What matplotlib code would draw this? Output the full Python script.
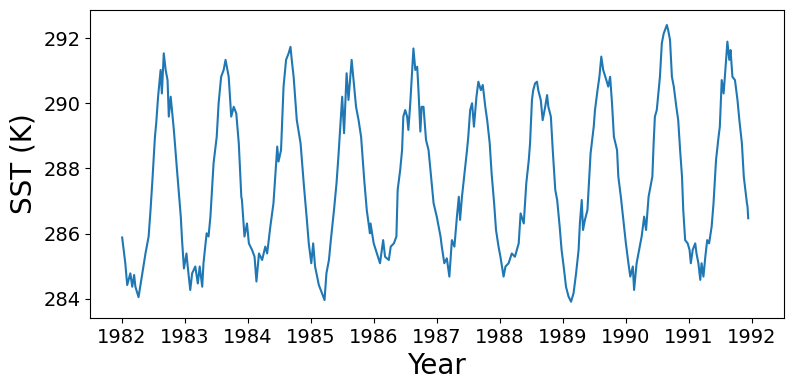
import matplotlib
matplotlib.use("Agg")
import matplotlib.pyplot as plt
import numpy as np

# SST values, split into five two-year segments
t_1982 = [1982.01, 1982.06, 1982.09, 1982.14, 1982.17, 1982.20, 1982.22, 1982.27, 1982.33, 1982.38,
          1982.43, 1982.46, 1982.49, 1982.53, 1982.55, 1982.58, 1982.62, 1982.64, 1982.67, 1982.70,
          1982.73, 1982.75, 1982.78, 1982.83, 1982.88, 1982.94, 1982.96, 1982.99, 1983.03, 1983.05,
          1983.09, 1983.12, 1983.17, 1983.21, 1983.24, 1983.28, 1983.30, 1983.35, 1983.38, 1983.41,
          1983.46, 1983.51, 1983.54, 1983.58, 1983.62, 1983.65, 1983.70, 1983.74, 1983.78, 1983.82,
          1983.86, 1983.90]
sst_1982 = [285.88, 285.09, 284.42, 284.78, 284.37, 284.73, 284.37, 284.05, 284.78, 285.39,
            285.91, 286.72, 287.64, 288.97, 289.38, 290.20, 291.02, 290.30, 291.53, 291.02,
            290.71, 289.59, 290.20, 289.18, 287.95, 286.52, 285.80, 284.93, 285.39, 284.99,
            284.27, 284.78, 284.99, 284.47, 284.99, 284.37, 285.09, 286.01, 285.91, 286.52,
            288.16, 288.97, 290.00, 290.81, 291.02, 291.33, 290.81, 289.59, 289.89, 289.69,
            288.77, 287.13]

t_1984 = [1983.91, 1983.95, 1983.99, 1984.02, 1984.07, 1984.11, 1984.14, 1984.18, 1984.23, 1984.28,
          1984.31, 1984.36, 1984.41, 1984.47, 1984.49, 1984.53, 1984.57, 1984.61, 1984.65, 1984.68,
          1984.70, 1984.73, 1984.78, 1984.84, 1984.89, 1984.94, 1984.97, 1985.01, 1985.04, 1985.07,
          1985.13, 1985.18, 1985.22, 1985.25, 1985.29, 1985.32, 1985.37, 1985.41, 1985.44, 1985.47,
          1985.50, 1985.53, 1985.57, 1985.60, 1985.65, 1985.68, 1985.72, 1985.76, 1985.80, 1985.85,
          1985.89, 1985.94]
sst_1984 = [287.03, 285.91, 286.31, 285.70, 285.50, 285.29, 284.53, 285.39, 285.19, 285.60,
            285.39, 286.21, 286.93, 288.67, 288.21, 288.56, 290.51, 291.33, 291.53, 291.73,
            291.33, 290.81, 289.48, 288.77, 287.54, 286.42, 285.70, 285.09, 285.70, 284.99,
            284.42, 284.17, 283.96, 284.78, 285.19, 285.80, 286.72, 287.54, 288.36, 289.28,
            290.20, 289.08, 290.92, 290.10, 291.33, 290.71, 289.89, 289.48, 288.97, 287.64,
            286.72, 286.01]

t_1986 = [1985.95, 1986.00, 1986.05, 1986.10, 1986.15, 1986.18, 1986.24, 1986.27, 1986.32, 1986.36,
          1986.38, 1986.42, 1986.45, 1986.47, 1986.50, 1986.53, 1986.55, 1986.58, 1986.61, 1986.63,
          1986.66, 1986.69, 1986.71, 1986.74, 1986.76, 1986.79, 1986.83, 1986.87, 1986.91, 1986.95,
          1987.00, 1987.06, 1987.08, 1987.12, 1987.16, 1987.20, 1987.24, 1987.28, 1987.32, 1987.35,
          1987.37, 1987.40, 1987.44, 1987.48, 1987.50, 1987.53, 1987.56, 1987.59, 1987.63, 1987.66,
          1987.70, 1987.73, 1987.77, 1987.80, 1987.84, 1987.87, 1987.91, 1987.94, 1987.98]
sst_1986 = [286.31, 285.70, 285.39, 285.09, 285.80, 285.29, 285.19, 285.60, 285.70, 285.91,
            287.34, 287.95, 288.56, 289.59, 289.79, 289.59, 289.18, 290.00, 291.02, 291.68,
            291.02, 291.12, 290.40, 289.13, 289.89, 289.89, 288.87, 288.56, 287.75, 286.93,
            286.52, 285.91, 285.60, 285.09, 285.24, 284.68, 285.80, 285.60, 286.52, 287.13,
            286.42, 287.13, 287.85, 288.56, 288.97, 289.79, 290.00, 289.28, 290.20, 290.66,
            290.40, 290.56, 289.89, 289.48, 288.77, 287.85, 286.93, 286.11, 285.60]

t_1988 = [1988.01, 1988.06, 1988.09, 1988.14, 1988.19, 1988.24, 1988.30, 1988.33, 1988.38, 1988.42,
          1988.46, 1988.48, 1988.51, 1988.53, 1988.56, 1988.59, 1988.61, 1988.65, 1988.68, 1988.72,
          1988.75, 1988.77, 1988.81, 1988.84, 1988.88, 1988.91, 1988.95, 1988.98, 1989.02, 1989.05,
          1989.09, 1989.13, 1989.17, 1989.21, 1989.25, 1989.27, 1989.30, 1989.32, 1989.35, 1989.39,
          1989.42, 1989.44, 1989.49, 1989.51, 1989.55, 1989.58, 1989.61, 1989.64, 1989.69, 1989.72,
          1989.75, 1989.78, 1989.81, 1989.86, 1989.88, 1989.92, 1989.96, 1990.00, 1990.04]
sst_1988 = [285.29, 284.68, 284.99, 285.09, 285.39, 285.29, 285.70, 286.62, 286.31, 287.54,
            288.26, 288.77, 290.10, 290.40, 290.61, 290.66, 290.40, 290.10, 289.48, 289.89,
            290.25, 289.89, 289.59, 288.56, 287.34, 287.03, 286.21, 285.50, 284.88, 284.37,
            284.07, 283.91, 284.17, 284.78, 285.50, 286.31, 287.03, 286.11, 286.42, 286.72,
            287.75, 288.46, 289.28, 289.79, 290.40, 290.81, 291.43, 291.02, 290.71, 290.51,
            290.81, 290.00, 288.97, 288.56, 287.75, 287.13, 286.42, 285.70, 285.09]

t_1990 = [1990.07, 1990.11, 1990.13, 1990.17, 1990.21, 1990.25, 1990.29, 1990.32, 1990.36, 1990.39,
          1990.42, 1990.44, 1990.46, 1990.49, 1990.52, 1990.54, 1990.57, 1990.60, 1990.65, 1990.67,
          1990.70, 1990.73, 1990.76, 1990.80, 1990.83, 1990.86, 1990.89, 1990.91, 1990.94, 1990.98,
          1991.01, 1991.03, 1991.06, 1991.10, 1991.12, 1991.15, 1991.18, 1991.20, 1991.23, 1991.26,
          1991.29, 1991.32, 1991.36, 1991.39, 1991.43, 1991.47, 1991.49, 1991.52, 1991.55, 1991.57,
          1991.60, 1991.61, 1991.64, 1991.66, 1991.69, 1991.73, 1991.77, 1991.80, 1991.84, 1991.87,
          1991.92, 1991.93, 1991.94]
sst_1990 = [284.68, 284.99, 284.27, 285.09, 285.50, 285.91, 286.52, 286.11, 287.13, 287.44,
            287.75, 288.77, 289.59, 289.79, 290.40, 290.81, 291.84, 292.14, 292.40, 292.25,
            291.94, 290.81, 290.51, 289.89, 289.48, 288.56, 287.75, 286.72, 285.80, 285.70,
            285.50, 285.09, 285.50, 285.70, 285.39, 285.09, 284.58, 285.09, 284.68, 285.29,
            285.80, 285.70, 286.21, 286.93, 288.26, 288.97, 289.28, 290.71, 290.30, 290.81,
            291.63, 291.89, 291.33, 291.63, 290.81, 290.71, 290.10, 289.48, 288.77, 287.75,
            286.93, 286.82, 286.47]

year = np.concatenate([t_1982, t_1984, t_1986, t_1988, t_1990])
sst = np.concatenate([sst_1982, sst_1984, sst_1986, sst_1988, sst_1990])
year_ticks = list(range(1982, 1993))

fig = plt.figure(figsize=(7.89, 3.9), dpi=100)
ax = fig.add_axes([90 / 789, 72 / 390, 693.5 / 789, 308 / 390])

ax.plot(year, sst, color="#1f77b4", linewidth=1.5)

ax.set_xticks(year_ticks)
ax.set_xticklabels([str(y) for y in year_ticks])
ax.set_xlim(1981.5, 1992.5)
ax.set_ylim(283.41, 292.86)
ax.tick_params(labelsize=14)
ax.set_xlabel("Year", fontsize=20)
ax.set_ylabel("SST (K)", fontsize=20)

fig.savefig("out.png", dpi=100)
